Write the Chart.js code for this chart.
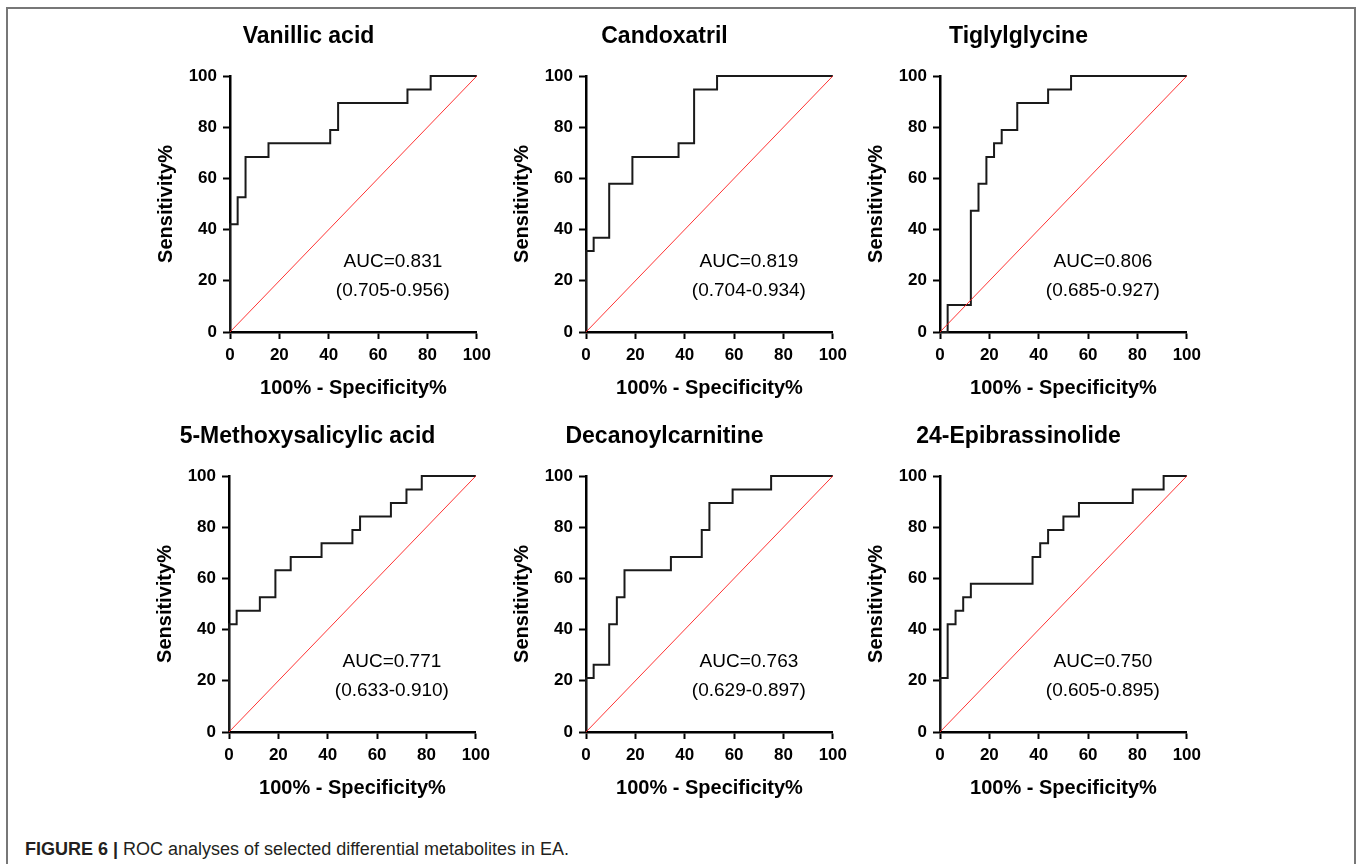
<!DOCTYPE html>
<html>
<head>
<meta charset="utf-8">
<script src="https://cdn.jsdelivr.net/npm/chart.js@4.4.0/dist/chart.umd.min.js"></script>
<style>
  body { margin: 0; width: 1357px; height: 864px; overflow: hidden; background: #fff; position: relative;
         font-family: "Liberation Sans", Arial, sans-serif; }
  .frame { position: absolute; left: 6px; top: 7px; width: 1350px; height: 900px; border: 2px solid #777; box-sizing: border-box; }
  canvas { position: absolute; }
  .caption { position: absolute; left: 25px; top: 838px; font-size: 18px; line-height: 22px; color: #231f20; white-space: nowrap; }
</style>
</head>
<body>
<div class="frame"></div>
<div id="panels"></div>
<div class="caption"><b>FIGURE 6 |</b> ROC analyses of selected differential metabolites in EA.</div>
<script>
// ROC data, values in %
const titles = ["Vanillic acid", "Candoxatril", "Tiglylglycine", "5-Methoxysalicylic acid", "Decanoylcarnitine", "24-Epibrassinolide"];
const aucLabels = ["AUC=0.831", "AUC=0.819", "AUC=0.806", "AUC=0.771", "AUC=0.763", "AUC=0.750"];
const ciLabels = ["(0.705-0.956)", "(0.704-0.934)", "(0.685-0.927)", "(0.633-0.910)", "(0.629-0.897)", "(0.605-0.895)"];

const vanillicFpr = [0, 0, 3.1, 6.3, 15.6, 40.6, 43.8, 71.9, 81.3, 100];
const vanillicTpr = [0, 42.1, 52.6, 68.4, 73.7, 78.9, 89.5, 94.7, 100, 100];
const candoxatrilFpr = [0, 0, 3.1, 9.4, 18.8, 37.5, 43.8, 53.1, 100];
const candoxatrilTpr = [0, 31.6, 36.8, 57.9, 68.4, 73.7, 94.7, 100, 100];
const tiglylFpr = [0, 3.1, 12.5, 15.6, 18.8, 21.9, 25.0, 31.3, 43.8, 53.1, 100];
const tiglylTpr = [0, 10.5, 47.4, 57.9, 68.4, 73.7, 78.9, 89.5, 94.7, 100, 100];
const methoxyFpr = [0, 0, 3.1, 12.5, 18.8, 25.0, 37.5, 50.0, 53.1, 65.6, 71.9, 78.1, 100];
const methoxyTpr = [0, 42.1, 47.4, 52.6, 63.2, 68.4, 73.7, 78.9, 84.2, 89.5, 94.7, 100, 100];
const decanoylFpr = [0, 0, 3.1, 9.4, 12.5, 15.6, 34.4, 46.9, 50.0, 59.4, 75.0, 100];
const decanoylTpr = [0, 21.1, 26.3, 42.1, 52.6, 63.2, 68.4, 78.9, 89.5, 94.7, 100, 100];
const epibrassFpr = [0, 0, 3.1, 6.3, 9.4, 12.5, 37.5, 40.6, 43.8, 50.0, 56.3, 78.1, 90.6, 100];
const epibrassTpr = [0, 21.1, 42.1, 47.4, 52.6, 57.9, 68.4, 73.7, 78.9, 84.2, 89.5, 94.7, 100, 100];

const refLineX = [0, 100];
const refLineY = [0, 100];
const axisTicks = [0, 20, 40, 60, 80, 100];

const curves = [
  [vanillicFpr, vanillicTpr],
  [candoxatrilFpr, candoxatrilTpr],
  [tiglylFpr, tiglylTpr],
  [methoxyFpr, methoxyTpr],
  [decanoylFpr, decanoylTpr],
  [epibrassFpr, epibrassTpr],
];

// plot area positions on the page
const plotLeft = [230, 586, 940, 229, 586, 940];
const plotTop = [76, 76, 76, 476, 476, 476];
const plotSize = 247;
const plotHeight = 256;

const FONT = '"Liberation Sans", Arial, sans-serif';
Chart.defaults.color = "#000";
Chart.defaults.font.family = FONT;

const toPoints = (xs, ys) => xs.map((x, i) => ({ x: x, y: ys[i] }));

const aucText = {
  id: "aucText",
  afterDatasetsDraw(chart, args, opts) {
    const { ctx, scales: { x, y } } = chart;
    ctx.save();
    ctx.font = "19px " + FONT;
    ctx.fillStyle = "#000";
    ctx.textAlign = "center";
    ctx.textBaseline = "middle";
    ctx.fillText(opts.auc, x.getPixelForValue(66), y.getPixelForValue(27.3));
    ctx.fillText(opts.ci, x.getPixelForValue(66), y.getPixelForValue(16.2));
    ctx.restore();
  },
};

const axisOptions = (titleText, isY) => ({
  type: "linear",
  min: 0,
  max: 100,
  afterBuildTicks: (scale) => {
    scale.ticks = axisTicks.map((v) => ({ value: v }));
  },
  afterFit: (scale) => {
    if (isY) scale.width = 90;
    else scale.height = 68;
  },
  ticks: {
    font: { size: 17, weight: "bold" },
    padding: 6,
    color: "#000",
  },
  grid: {
    display: true,
    drawOnChartArea: false,
    drawTicks: true,
    tickLength: 7,
    tickWidth: 2,
    tickColor: "#000",
  },
  border: { display: true, color: "#000", width: 2.5 },
  title: {
    display: true,
    text: titleText,
    font: { size: 20, weight: "bold" },
    color: "#000",
    padding: isY ? { top: 14, bottom: 0 } : { top: 0, bottom: 0 },
  },
});

const panels = document.getElementById("panels");
titles.forEach((title, i) => {
  const canvas = document.createElement("canvas");
  const w = 90 + plotSize + 20;
  const h = 59 + plotHeight + 68;
  canvas.width = w;
  canvas.height = h;
  canvas.style.width = w + "px";
  canvas.style.height = h + "px";
  canvas.style.left = plotLeft[i] - 90 + "px";
  canvas.style.top = plotTop[i] - 59 + "px";
  panels.appendChild(canvas);

  new Chart(canvas, {
    type: "scatter",
    data: {
      datasets: [
        {
          data: toPoints(refLineX, refLineY),
          showLine: true,
          borderColor: "rgba(255,30,30,0.9)",
          borderWidth: 1,
          pointRadius: 0,
          clip: false,
        },
        {
          data: toPoints(curves[i][0], curves[i][1]),
          showLine: true,
          stepped: "before",
          borderColor: "#1a1a1a",
          borderWidth: 2,
          pointRadius: 0,
          clip: false,
        },
      ],
    },
    options: {
      responsive: false,
      animation: false,
      layout: { padding: { left: 0, right: 20, top: 0, bottom: 0 } },
      plugins: {
        legend: { display: false },
        tooltip: { enabled: false },
        title: {
          display: true,
          text: title,
          font: { size: 23, weight: "bold" },
          color: "#000",
          padding: { top: 6, bottom: 25.4 },
        },
        aucText: { auc: aucLabels[i], ci: ciLabels[i] },
      },
      scales: {
        x: axisOptions("100% - Specificity%", false),
        y: axisOptions("Sensitivity%", true),
      },
    },
    plugins: [aucText],
  });
});
</script>
</body>
</html>
